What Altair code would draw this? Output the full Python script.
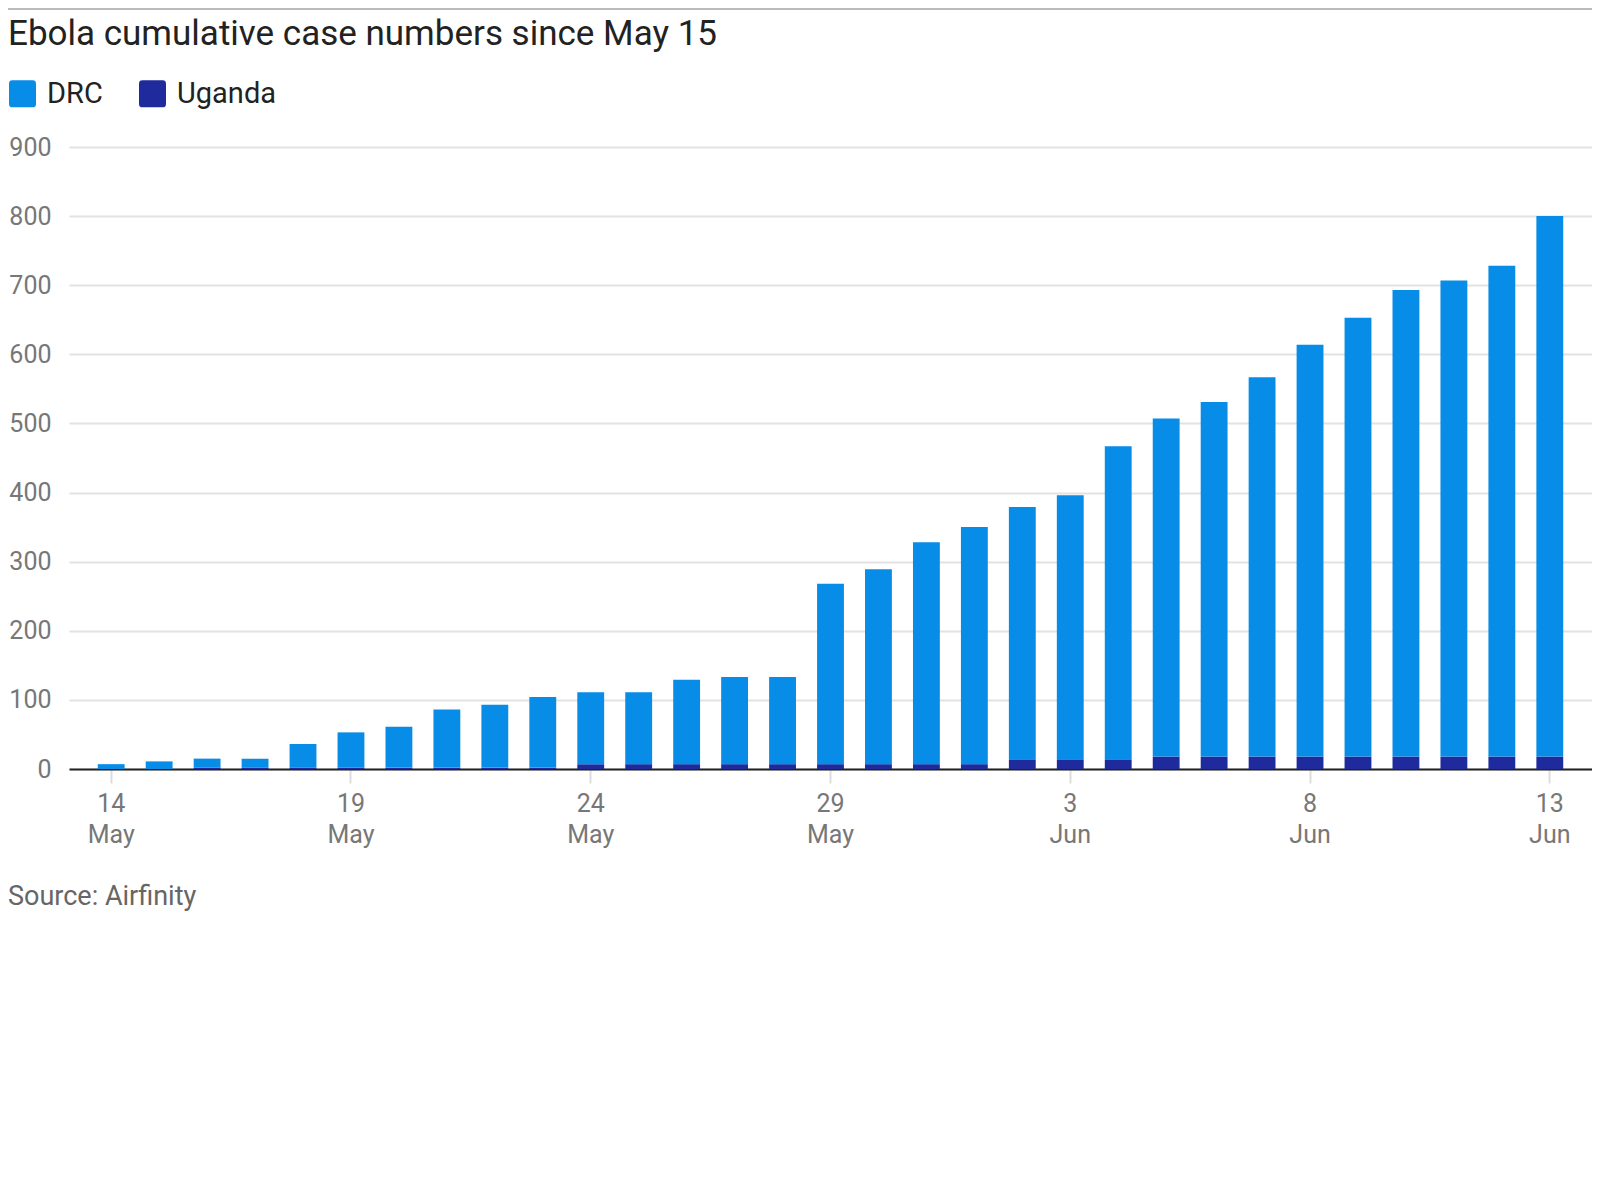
import altair as alt
import pandas as pd

dates = ["14 May", "15 May", "16 May", "17 May", "18 May", "19 May", "20 May", "21 May",
         "22 May", "23 May", "24 May", "25 May", "26 May", "27 May", "28 May", "29 May",
         "30 May", "31 May", "1 Jun", "2 Jun", "3 Jun", "4 Jun", "5 Jun", "6 Jun",
         "7 Jun", "8 Jun", "9 Jun", "10 Jun", "11 Jun", "12 Jun", "13 Jun"]
total = [7, 11, 15, 15, 36, 53, 61, 86, 93, 104, 111, 111, 129, 133, 133, 268,
         289, 328, 350, 379, 396, 467, 507, 531, 567, 614, 653, 693, 707, 728, 800]
uganda = [0, 0, 2, 2, 2, 2, 2, 2, 2, 2, 7, 7, 7, 7, 7, 7,
          7, 7, 7, 14, 14, 14, 18, 18, 18, 18, 18, 18, 18, 18, 18]
drc = [t - u for t, u in zip(total, uganda)]
tick_dates = ["14 May", "19 May", "24 May", "29 May", "3 Jun", "8 Jun", "13 Jun"]
y_ticks = [0, 100, 200, 300, 400, 500, 600, 700, 800, 900]
countries = ["DRC", "Uganda"]
colors = ["#078ce7", "#1f2b9c"]

title_text = "Ebola cumulative case numbers since May 15"
source_text = "Source: Airfinity"

rows = []
for d, a, b in zip(dates, drc, uganda):
    rows.append({"date": d, "country": "Uganda", "cases": b, "ord": 0})
    rows.append({"date": d, "country": "DRC", "cases": a, "ord": 1})
df = pd.DataFrame(rows)

W, H = 1523, 622
rounded = ("M -0.75 -1 L 0.75 -1 Q 1 -1 1 -0.75 L 1 0.75 Q 1 1 0.75 1 "
           "L -0.75 1 Q -1 1 -1 0.75 L -1 -0.75 Q -1 -1 -0.75 -1 Z")

bars = alt.Chart(df).mark_bar().encode(
    x=alt.X("date:N", sort=dates,
            scale=alt.Scale(paddingInner=0.44, paddingOuter=0.6),
            axis=alt.Axis(values=tick_dates, labelExpr="split(datum.label, ' ')",
                          title=None, labelAngle=0, labelFontSize=25, labelColor="#777",
                          labelFont="Roboto", labelLineHeight=31, labelPadding=8,
                          tickSize=14, tickWidth=2, tickColor="#dddddd",
                          domainColor="#222222", domainWidth=2, grid=False,
                          labelBaseline="top")),
    y=alt.Y("cases:Q", stack="zero",
            scale=alt.Scale(domain=[0, 900], nice=False),
            axis=alt.Axis(values=y_ticks, title=None, ticks=False, domain=False,
                          labelFontSize=25, labelColor="#777", labelFont="Roboto",
                          labelPadding=18, gridColor="#e2e2e2", gridWidth=2)),
    color=alt.Color("country:N",
                    scale=alt.Scale(domain=countries, range=colors),
                    legend=alt.Legend(orient="none", legendX=-61, legendY=-68,
                                      direction="horizontal", title=None,
                                      symbolType=rounded, symbolSize=729,
                                      symbolStrokeWidth=0, symbolOpacity=1,
                                      labelFontSize=29, labelFont="Roboto",
                                      labelColor="#222222", labelOffset=10,
                                      columnPadding=35)),
    order=alt.Order("ord:Q", sort="ascending"),
)

src = alt.Chart(pd.DataFrame({"t": [source_text]})).mark_text(
    align="left", baseline="middle", fontSize=27, font="Roboto", color="#666666"
).encode(text="t:N", x=alt.value(-61), y=alt.value(750))

top_rule = alt.Chart(pd.DataFrame({"a": [0]})).mark_rule(
    color="#bbbbbb", strokeWidth=2
).encode(x=alt.value(-61), x2=alt.value(W), y=alt.value(-138))

chart = alt.layer(bars, src, top_rule).properties(
    width=W, height=H,
    autosize=alt.AutoSizeParams(type="none"),
    padding={"left": 61, "top": 139, "right": 0, "bottom": 200},
    title=alt.Title(title_text, anchor="start", frame="group", dx=-61, dy=72,
                    fontSize=35, font="Roboto", fontWeight="normal",
                    color="#222222", offset=0, baseline="alphabetic"),
).configure_view(stroke=None)

chart.save("out.html", embed_options={"renderer": "svg", "actions": False})
